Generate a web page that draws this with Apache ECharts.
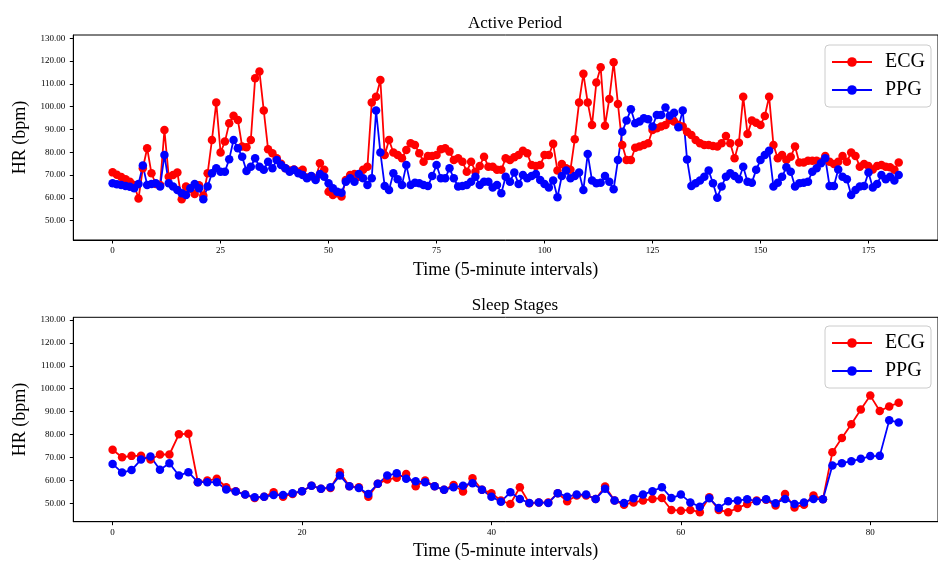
<!DOCTYPE html>
<html>
<head>
<meta charset="utf-8">
<title>Heart Rate: ECG vs PPG</title>
<script src="https://cdn.jsdelivr.net/npm/echarts@6/dist/echarts.min.js"></script>
<style>
  html, body { margin: 0; padding: 0; background: #ffffff; }
  #chart { width: 938px; height: 563px; }
</style>
</head>
<body>
<div id="chart"></div>
<script>
// Heart rate (bpm) per 5-minute interval, ECG reference vs PPG estimate
const ecgActive = [
  71.2, 70.2, 69.2, 68.2, 67.1, 65.7, 59.7, 73.0, 81.8, 70.8,
  66.1, 65.7, 89.8, 69.3, 70.0, 71.1, 59.4, 65.0, 64.0, 61.7,
  65.5, 61.0, 70.8, 85.4, 101.8, 79.9, 84.7, 92.7, 96.0, 94.2,
  82.5, 82.2, 85.4, 112.5, 115.4, 98.3, 81.3, 79.6, 77.4, 75.0,
  73.0, 72.0, 72.5, 71.5, 72.3, 69.0, 69.5, 68.5, 75.2, 72.3,
  62.7, 61.3, 62.0, 60.6, 67.9, 70.0, 70.5, 69.3, 72.3, 73.7,
  101.8, 104.4, 111.7, 78.8, 85.4, 79.9, 78.8, 77.4, 81.0, 84.0,
  83.2, 79.6, 75.9, 78.4, 78.4, 78.8, 81.3, 81.8, 80.3, 76.6,
  77.4, 75.9, 71.5, 75.9, 71.5, 74.0, 78.1, 73.7, 73.7, 72.3,
  72.3, 77.4, 76.6, 77.8, 78.8, 80.7, 79.6, 74.4, 74.0, 74.4,
  78.8, 78.8, 83.7, 72.0, 74.9, 73.0, 72.3, 85.7, 101.8, 114.4,
  101.8, 92.0, 110.6, 117.3, 91.6, 103.4, 119.5, 101.2, 83.2, 76.6,
  76.6, 82.0, 82.5, 83.2, 84.0, 89.8, 90.5, 91.3, 92.0, 94.2,
  93.5, 92.0, 91.3, 89.0, 87.6, 85.4, 84.0, 83.2, 83.2, 82.8,
  82.5, 84.0, 87.2, 84.0, 77.4, 84.2, 104.4, 88.0, 93.9, 93.0,
  92.0, 95.9, 104.4, 83.2, 77.4, 78.8, 76.6, 78.1, 82.5, 75.5,
  75.5, 76.3, 76.3, 76.3, 75.9, 78.4, 75.9, 74.9, 75.9, 78.4,
  75.9, 79.9, 78.4, 73.7, 74.9, 74.0, 72.5, 74.0, 74.4, 73.7,
  73.4, 72.3, 75.5
];
const ppgActive = [
  66.4, 66.0, 65.7, 65.2, 64.9, 64.2, 66.1, 74.2, 65.7, 66.1,
  66.4, 65.0, 78.8, 66.4, 65.0, 63.5, 62.0, 61.3, 64.2, 66.1,
  64.2, 59.4, 65.0, 70.8, 73.0, 71.5, 71.5, 77.0, 85.4, 81.8,
  78.0, 71.8, 73.7, 77.4, 73.7, 72.3, 75.9, 73.0, 76.6, 74.4,
  73.0, 71.5, 72.3, 70.8, 70.0, 68.6, 69.6, 67.9, 70.5, 69.3,
  66.4, 64.2, 62.7, 62.3, 67.1, 68.6, 67.1, 70.5, 68.6, 65.7,
  68.6, 98.3, 79.9, 65.2, 63.5, 70.8, 68.2, 65.7, 74.4, 65.7,
  66.7, 66.4, 65.7, 65.2, 69.6, 74.4, 68.6, 68.6, 73.0, 68.6,
  65.0, 65.2, 65.7, 67.1, 69.3, 65.7, 67.1, 67.1, 64.6, 65.7,
  62.0, 69.3, 67.1, 71.1, 66.1, 70.0, 68.6, 69.6, 70.5, 67.9,
  66.1, 64.6, 67.6, 60.3, 69.6, 72.0, 68.6, 69.6, 71.1, 63.5,
  79.3, 67.6, 66.4, 66.7, 69.6, 67.1, 63.8, 76.6, 89.0, 93.9,
  98.9, 92.7, 93.5, 94.9, 94.5, 91.3, 96.4, 96.4, 99.7, 96.0,
  97.4, 91.0, 98.3, 76.9, 65.2, 66.4, 67.6, 69.3, 72.0, 66.4,
  60.1, 65.0, 69.3, 70.8, 69.6, 68.2, 73.7, 67.1, 66.7, 72.3,
  76.6, 78.8, 80.7, 65.0, 66.7, 69.3, 73.4, 71.5, 65.0, 66.4,
  66.7, 67.1, 71.5, 73.0, 75.2, 77.4, 65.2, 65.2, 72.5, 69.3,
  68.2, 61.3, 63.5, 65.0, 65.2, 71.1, 64.6, 66.1, 70.0, 68.2,
  69.3, 67.6, 70.0
];
const ecgSleep = [
  73.4, 70.1, 70.7, 70.7, 69.1, 71.3, 71.3, 80.1, 80.4, 59.2,
  59.9, 60.7, 57.0, 55.3, 53.8, 52.3, 52.9, 54.8, 52.9, 54.1,
  55.3, 57.7, 56.3, 56.7, 63.6, 57.4, 57.0, 52.9, 58.5, 60.4,
  61.1, 62.8, 57.4, 59.9, 57.4, 55.9, 58.0, 55.1, 60.9, 55.9,
  54.4, 51.2, 49.7, 57.0, 50.0, 50.4, 50.4, 54.4, 50.9, 53.4,
  53.4, 51.9, 57.3, 51.2, 49.4, 50.4, 51.2, 51.9, 52.3, 47.1,
  46.8, 47.1, 46.1, 52.6, 47.1, 46.1, 48.0, 49.7, 51.2, 51.5,
  49.0, 54.1, 48.2, 49.4, 53.4, 51.8, 72.3, 78.5, 84.5, 90.9,
  97.0, 90.3, 92.3, 93.9
];
const ppgSleep = [
  67.2, 63.4, 64.5, 69.1, 70.4, 64.6, 67.5, 62.1, 63.6, 59.2,
  59.2, 59.2, 56.0, 55.1, 53.8, 52.6, 52.9, 53.6, 53.6, 54.4,
  55.3, 57.7, 56.3, 57.0, 62.1, 57.4, 56.7, 54.1, 58.5, 62.1,
  63.1, 60.7, 59.6, 59.2, 57.4, 55.9, 57.0, 57.7, 58.8, 55.9,
  52.9, 50.7, 54.8, 51.9, 50.1, 50.4, 50.1, 54.4, 52.9, 53.8,
  53.8, 51.9, 56.3, 51.2, 50.1, 52.2, 53.8, 55.3, 57.0, 52.3,
  53.8, 50.4, 48.5, 52.2, 48.0, 50.9, 51.2, 51.8, 50.9, 51.8,
  50.0, 51.9, 49.7, 50.4, 51.9, 51.8, 66.5, 67.5, 68.4, 69.4,
  70.6, 70.7, 86.2, 85.3
];

const hrTicks = [50, 60, 70, 80, 90, 100, 110, 120, 130];
const activeTicks = [0, 25, 50, 75, 100, 125, 150, 175];
const sleepTicks = [0, 20, 40, 60, 80];

const FONT = 'Liberation Serif, Times New Roman, serif';
const RED = '#ff0000';
const BLUE = '#0000ff';

function indexed(values) {
  return values.map((v, i) => [i, v]);
}

function xAxisFor(gridIndex, min, max, ticks) {
  return {
    type: 'value', gridIndex, min, max,
    name: 'Time (5-minute intervals)',
    nameLocation: 'middle', nameGap: 21,
    nameTextStyle: { fontFamily: FONT, fontSize: 18, color: '#000' },
    axisLine: { show: true, onZero: false, lineStyle: { color: '#000', width: 1 } },
    axisTick: { show: true, length: 3.5, customValues: ticks, lineStyle: { color: '#000', width: 1 } },
    axisLabel: { customValues: ticks, margin: 6, fontFamily: FONT, fontSize: 9, color: '#000' },
    splitLine: { show: false }
  };
}

function yAxisFor(gridIndex, min, max) {
  return {
    type: 'value', gridIndex, min, max,
    name: 'HR (bpm)',
    nameLocation: 'middle', nameGap: 43,
    nameTextStyle: { fontFamily: FONT, fontSize: 18, color: '#000' },
    axisLine: { show: true, onZero: false, lineStyle: { color: '#000', width: 1 } },
    axisTick: { show: true, length: 3.5, customValues: hrTicks, lineStyle: { color: '#000', width: 1 } },
    axisLabel: {
      customValues: hrTicks, margin: 8, fontFamily: FONT, fontSize: 9, color: '#000',
      formatter: v => v.toFixed(2)
    },
    splitLine: { show: false }
  };
}

function lineSeries(name, color, values, axisIndex) {
  return {
    name, type: 'line',
    xAxisIndex: axisIndex, yAxisIndex: axisIndex,
    data: indexed(values),
    symbol: 'circle', symbolSize: 8.5,
    showAllSymbol: true,
    itemStyle: { color },
    lineStyle: { color, width: 1.8 },
    emphasis: { disabled: true },
    animation: false
  };
}

function legendAt(top) {
  return {
    orient: 'vertical', left: 825, top,
    data: ['ECG', 'PPG'],
    itemWidth: 40, itemHeight: 12, itemGap: 8,
    padding: [7, 6, 7, 6],
    backgroundColor: 'rgba(255,255,255,0.85)',
    borderColor: '#cccccc', borderWidth: 1, borderRadius: 4,
    textStyle: { fontFamily: FONT, fontSize: 20, color: '#000', padding: [0, 0, 0, 8] }
  };
}

const chart = echarts.init(document.getElementById('chart'), null, { renderer: 'canvas' });
chart.setOption({
  animation: false,
  backgroundColor: '#ffffff',
  title: [
    { text: 'Active Period', left: 510, top: 10, textAlign: 'center',
      textStyle: { fontFamily: FONT, fontSize: 17, fontWeight: 'normal', color: '#000' } },
    { text: 'Sleep Stages', left: 510, top: 292, textAlign: 'center',
      textStyle: { fontFamily: FONT, fontSize: 17, fontWeight: 'normal', color: '#000' } }
  ],
  grid: [
    { left: 73.3, top: 35, width: 873, height: 205, show: true, borderColor: '#000', borderWidth: 1, backgroundColor: 'transparent' },
    { left: 73.3, top: 317.3, width: 873, height: 204.4, show: true, borderColor: '#000', borderWidth: 1, backgroundColor: 'transparent' }
  ],
  xAxis: [
    xAxisFor(0, -9.1, 191.1, activeTicks),
    xAxisFor(1, -4.15, 87.15, sleepTicks)
  ],
  yAxis: [
    yAxisFor(0, 41.54, 131.45),
    yAxisFor(1, 41.97, 131.18)
  ],
  legend: [legendAt(45), legendAt(326)],
  series: [
    lineSeries('ECG', RED, ecgActive, 0),
    lineSeries('PPG', BLUE, ppgActive, 0),
    lineSeries('ECG', RED, ecgSleep, 1),
    lineSeries('PPG', BLUE, ppgSleep, 1)
  ]
});
</script>
</body>
</html>
